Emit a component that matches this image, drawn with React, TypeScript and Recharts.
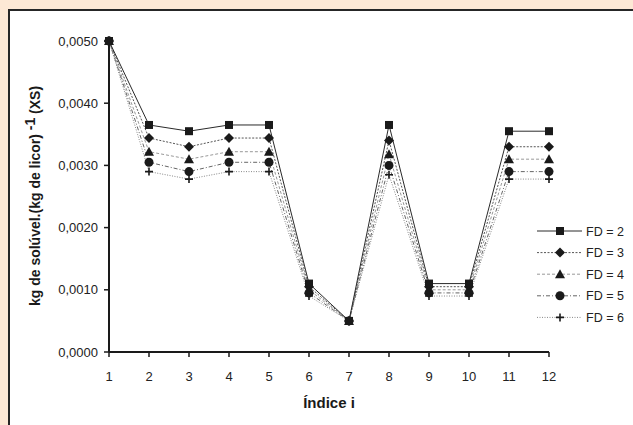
import React from 'react';
import { LineChart, Line, XAxis, YAxis, Legend } from 'recharts';

const indices = [1, 2, 3, 4, 5, 6, 7, 8, 9, 10, 11, 12];
const fd2 = [0.0050, 0.00365, 0.00355, 0.00365, 0.00365, 0.0011, 0.0005, 0.00365, 0.0011, 0.0011, 0.00355, 0.00355];
const fd3 = [0.0050, 0.00344, 0.0033, 0.00344, 0.00344, 0.00105, 0.0005, 0.0034, 0.00105, 0.00105, 0.0033, 0.0033];
const fd4 = [0.0050, 0.00322, 0.0031, 0.00322, 0.00322, 0.0010, 0.0005, 0.00318, 0.0010, 0.0010, 0.0031, 0.0031];
const fd5 = [0.0050, 0.00305, 0.0029, 0.00305, 0.00305, 0.00095, 0.0005, 0.0030, 0.00095, 0.00095, 0.0029, 0.0029];
const fd6 = [0.0050, 0.0029, 0.00278, 0.0029, 0.0029, 0.0009, 0.0005, 0.00285, 0.0009, 0.0009, 0.00278, 0.00278];
const seriesNames = ['FD = 2', 'FD = 3', 'FD = 4', 'FD = 5', 'FD = 6'];
const yTicks = [0, 0.001, 0.002, 0.003, 0.004, 0.005];
const xTicks = [1, 2, 3, 4, 5, 6, 7, 8, 9, 10, 11, 12];

const data = indices.map((i, k) => ({ i, fd2: fd2[k], fd3: fd3[k], fd4: fd4[k], fd5: fd5[k], fd6: fd6[k] }));

type Shape = 'square' | 'diamond' | 'triangle' | 'circle' | 'plus';

const seriesCfg: { key: string; shape: Shape; stroke: string; dash?: string; width: number }[] = [
  { key: 'fd2', shape: 'square', stroke: '#2a2a2a', width: 1 },
  { key: 'fd3', shape: 'diamond', stroke: '#555', dash: '2 1.5', width: 1 },
  { key: 'fd4', shape: 'triangle', stroke: '#999', dash: '3 2', width: 1 },
  { key: 'fd5', shape: 'circle', stroke: '#666', dash: '4 2 1 2', width: 1 },
  { key: 'fd6', shape: 'plus', stroke: '#888', dash: '1 1.5', width: 1 },
];

function marker(shape: Shape, cx: number, cy: number, key?: any) {
  const c = '#1a1a1a';
  switch (shape) {
    case 'square':
      return <rect key={key} x={cx - 4} y={cy - 4} width={8} height={8} fill={c} />;
    case 'diamond':
      return <path key={key} d={`M${cx},${cy - 5}L${cx + 5},${cy}L${cx},${cy + 5}L${cx - 5},${cy}Z`} fill={c} />;
    case 'triangle':
      return <path key={key} d={`M${cx},${cy - 5}L${cx + 5},${cy + 4}L${cx - 5},${cy + 4}Z`} fill={c} />;
    case 'circle':
      return <circle key={key} cx={cx} cy={cy} r={4.5} fill={c} />;
    case 'plus':
      return (
        <path key={key} d={`M${cx - 4},${cy}L${cx + 4},${cy}M${cx},${cy - 4}L${cx},${cy + 4}`} stroke={c} strokeWidth={1.6} fill="none" />
      );
  }
}

const dotFor = (shape: Shape) => (props: any) => {
  const { cx, cy, index } = props;
  if (cx == null || cy == null) return <g key={`e-${index}`} />;
  return marker(shape, cx, cy, `${shape}-${index}`);
};

const fmt = (v: number) => v.toFixed(4).replace('.', ',');

const LegendContent = () => (
  <svg width={100} height={110}>
    {seriesCfg.map((s, k) => {
      const y = 11 + k * 21.6;
      return (
        <g key={s.key}>
          <line x1={7} x2={52} y1={y} y2={y} stroke={s.stroke} strokeWidth={1} strokeDasharray={s.dash} />
          {marker(s.shape, 30, y)}
          <text x={56} y={y + 4.5} fontSize={12.5} fill="#222" fontFamily="Liberation Sans, Arial, sans-serif">
            {seriesNames[k]}
          </text>
        </g>
      );
    })}
  </svg>
);

const YLabel = () => (
  <text
    transform="translate(40,196) rotate(-90)"
    textAnchor="middle"
    fontSize={14}
    fontWeight="bold"
    fill="#1a1a1a"
    fontFamily="Liberation Sans, Arial, sans-serif"
  >
    <tspan>kg de solúvel.(kg de licor)</tspan>
    <tspan dy={-5}> -1</tspan>
    <tspan dy={5}> (XS)</tspan>
  </text>
);

export default function App() {
  return (
    <div style={{ position: 'fixed', left: 0, top: 0, width: 633, height: 425, background: '#fde8d5', overflow: 'hidden' }}>
      <div
        style={{
          position: 'absolute',
          left: 8,
          top: 9,
          width: 660,
          height: 460,
          border: '2px solid #262626',
          background: '#ffffff',
        }}
      />
      <div style={{ position: 'absolute', left: 0, top: 0 }}>
        <LineChart width={633} height={425} data={data} margin={{ top: 41, right: 84, left: 49, bottom: 43 }}>
          <XAxis
            dataKey="i"
            type="number"
            domain={[1, 12]}
            ticks={xTicks}
            allowDecimals={false}
            height={30}
            stroke="#1a1a1a"
            strokeWidth={2}
            tickSize={5}
            tickMargin={15}
            tick={{ fontSize: 13, fill: '#222', fontFamily: 'Liberation Sans, Arial, sans-serif' }}
            tickLine={{ stroke: '#1a1a1a', strokeWidth: 1.5 }}
            label={{
              value: 'Índice i',
              position: 'insideBottom',
              offset: -26,
              fontSize: 15,
              fontWeight: 'bold',
              fill: '#1a1a1a',
              fontFamily: 'Liberation Sans, Arial, sans-serif',
            }}
          />
          <YAxis
            type="number"
            domain={[0, 0.005]}
            ticks={yTicks}
            width={60}
            stroke="#1a1a1a"
            strokeWidth={2}
            tickSize={5}
            tickMargin={6}
            tickFormatter={fmt}
            tick={{ fontSize: 13, fill: '#222', fontFamily: 'Liberation Sans, Arial, sans-serif' }}
            tickLine={{ stroke: '#1a1a1a', strokeWidth: 1.5 }}
            label={{ content: () => <YLabel /> }}
          />
          {seriesCfg
            .slice()
            .reverse()
            .map((s) => (
              <Line
                key={s.key}
                dataKey={s.key}
                name={seriesNames[seriesCfg.indexOf(s)]}
                stroke={s.stroke}
                strokeWidth={s.width}
                strokeDasharray={s.dash}
                dot={dotFor(s.shape)}
                activeDot={false}
                isAnimationActive={false}
                type="linear"
              />
            ))}
          <Legend
            layout="horizontal"
            verticalAlign="middle"
            align="center"
            content={() => <LegendContent />}
            wrapperStyle={{ left: 530, top: 220, width: 100, height: 110 }}
          />
        </LineChart>
      </div>
    </div>
  );
}
